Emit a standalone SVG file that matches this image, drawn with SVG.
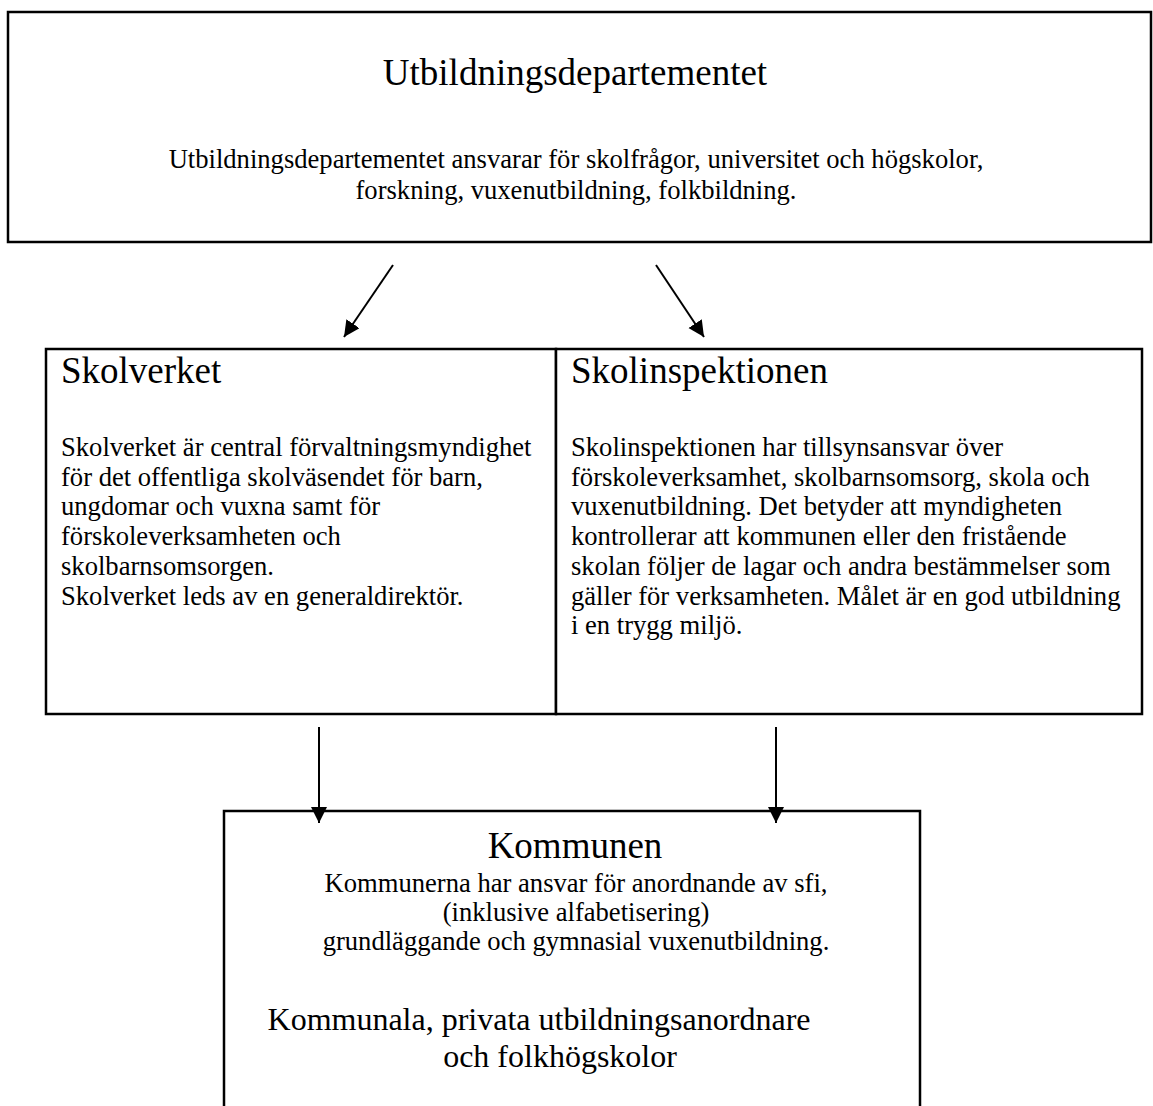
<svg xmlns="http://www.w3.org/2000/svg" width="1153" height="1106" viewBox="0 0 1153 1106">
<style>
.box{fill:#fff;stroke:#000;stroke-width:2.5}
.t{font-family:"Liberation Serif","Times New Roman",serif;fill:#000}
.h{font-size:37px}
.b{font-size:26.6px}
.k{font-size:32px}
.c{text-anchor:middle}
.conn{stroke:#000;stroke-width:2;fill:none}
</style>
<defs>
<marker id="ah" markerUnits="userSpaceOnUse" markerWidth="20" markerHeight="20" refX="16" refY="8" orient="auto">
<path d="M0,0 L16,8 L0,16 Z" fill="#000"/>
</marker>
</defs>
<rect width="1153" height="1106" fill="#fff"/>
<g id="utbildningsdepartementet">
<rect class="box" x="8" y="12" width="1143" height="230"/>
<text class="t h c" x="575" y="85">Utbildningsdepartementet</text>
<text class="t b c" x="576" y="168">Utbildningsdepartementet ansvarar för skolfrågor, universitet och högskolor,</text>
<text class="t b c" x="576" y="199">forskning, vuxenutbildning, folkbildning.</text>
</g>
<g id="skolverket">
<rect class="box" x="46" y="349" width="510" height="365"/>
<text class="t h" x="61" y="383">Skolverket</text>
<text class="t b" x="61" y="456">Skolverket är central förvaltningsmyndighet</text>
<text class="t b" x="61" y="485.7">för det offentliga skolväsendet för barn,</text>
<text class="t b" x="61" y="515.4">ungdomar och vuxna samt för</text>
<text class="t b" x="61" y="545.1">förskoleverksamheten och</text>
<text class="t b" x="61" y="574.8">skolbarnsomsorgen.</text>
<text class="t b" x="61" y="604.5">Skolverket leds av en generaldirektör.</text>
</g>
<g id="skolinspektionen">
<rect class="box" x="556" y="349" width="586" height="365"/>
<text class="t h" x="571" y="383">Skolinspektionen</text>
<text class="t b" x="571" y="456">Skolinspektionen har tillsynsansvar över</text>
<text class="t b" x="571" y="485.7">förskoleverksamhet, skolbarnsomsorg, skola och</text>
<text class="t b" x="571" y="515.4">vuxenutbildning. Det betyder att myndigheten</text>
<text class="t b" x="571" y="545.1">kontrollerar att kommunen eller den fristående</text>
<text class="t b" x="571" y="574.8">skolan följer de lagar och andra bestämmelser som</text>
<text class="t b" x="571" y="604.5">gäller för verksamheten. Målet är en god utbildning</text>
<text class="t b" x="571" y="634.2">i en trygg miljö.</text>
</g>
<g id="kommunen">
<rect class="box" x="224" y="811" width="696" height="320"/>
<text class="t h c" x="575" y="858">Kommunen</text>
<text class="t b c" x="576" y="892">Kommunerna har ansvar för anordnande av sfi,</text>
<text class="t b c" x="576" y="921">(inklusive alfabetisering)</text>
<text class="t b c" x="576" y="950">grundläggande och gymnasial vuxenutbildning.</text>
<text class="t k c" x="539" y="1030">Kommunala, privata utbildningsanordnare</text>
<text class="t k c" x="560" y="1067">och folkhögskolor</text>
</g>
<g id="connectors">
<line class="conn" x1="393" y1="265" x2="344" y2="337" marker-end="url(#ah)"/>
<line class="conn" x1="656" y1="265" x2="704" y2="337" marker-end="url(#ah)"/>
<line class="conn" x1="319" y1="727" x2="319" y2="823" marker-end="url(#ah)"/>
<line class="conn" x1="776" y1="727" x2="776" y2="823" marker-end="url(#ah)"/>
</g>
</svg>
